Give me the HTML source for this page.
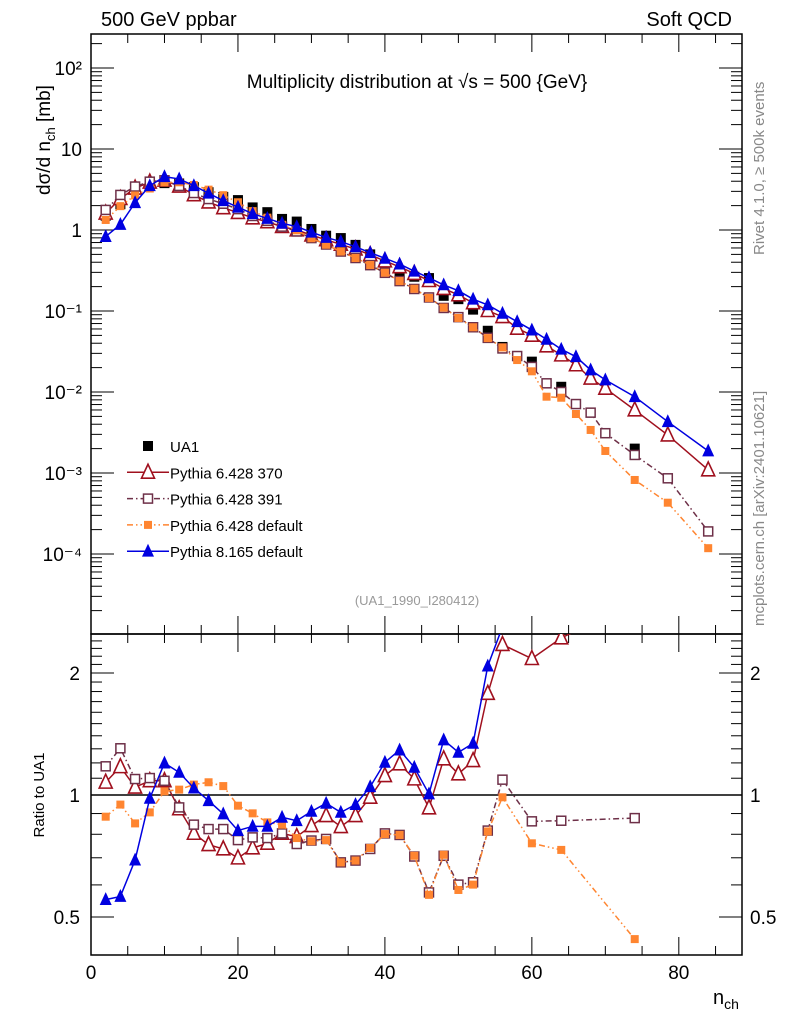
<!DOCTYPE html>
<html><head><meta charset="utf-8"><style>
html,body{margin:0;padding:0;background:#fff;}
svg{display:block;font-family:"Liberation Sans",Arial,sans-serif;}
</style></head><body>
<svg id="chart" width="786" height="1024" viewBox="0 0 786 1024" xmlns="http://www.w3.org/2000/svg">
<defs>
<clipPath id="clipMain"><rect x="91" y="34" width="651" height="600"/></clipPath>
<clipPath id="clipRatio"><rect x="91" y="634" width="651" height="321"/></clipPath>
</defs>
<g id="axes"></g>
<g id="series"></g>
<text x="101" y="26" font-size="20">500 GeV ppbar</text>
<text x="732" y="26" font-size="20" text-anchor="end">Soft QCD</text>
<text x="417" y="88" font-size="19" text-anchor="middle">Multiplicity distribution at √s = 500 {GeV}</text>
<text transform="translate(50,195) rotate(-90)" font-size="19" text-anchor="start">dσ/d n<tspan font-size="13" dy="5">ch</tspan><tspan dy="-5"> [mb]</tspan></text>
<text transform="translate(44,795) rotate(-90)" font-size="15" text-anchor="middle">Ratio to UA1</text>
<text x="713" y="1004" font-size="20">n<tspan font-size="14" dy="5">ch</tspan></text>
<text transform="translate(764,255) rotate(-90)" font-size="15" fill="#888">Rivet 4.1.0, ≥ 500k events</text>
<text transform="translate(764,626) rotate(-90)" font-size="15" fill="#888">mcplots.cern.ch [arXiv:2401.10621]</text>
<text x="417" y="605" font-size="13" fill="#999" text-anchor="middle">(UA1_1990_I280412)</text>
<g id="legend"></g>
</svg>
<script>
const ua1N = [2,4,6,8,10,12,14,16,18,20,22,24,26,28,30,32,34,36,38,40,42,44,46,48,50,52,54,56,60,64,74];
const ua1Vals = [1.50,2.08,3.14,3.59,3.79,3.76,3.38,2.93,2.56,2.34,1.90,1.66,1.37,1.27,1.03,0.85,0.795,0.655,0.50,0.371,0.294,0.265,0.255,0.154,0.140,0.104,0.057,0.036,0.0237,0.0116,0.0020];
const mcN = [2,4,6,8,10,12,14,16,18,20,22,24,26,28,30,32,34,36,38,40,42,44,46,48,50,52,54,56,58,60,62,64,66,68,70,74,78.5,84];
const p370Vals = [1.61,2.44,3.28,3.89,4.11,3.47,2.72,2.21,1.88,1.64,1.41,1.26,1.10,1.00,0.865,0.756,0.664,0.582,0.494,0.414,0.351,0.290,0.237,0.189,0.158,0.126,0.101,0.085,0.0611,0.050,0.037,0.0286,0.0216,0.0148,0.0111,0.0060,0.00294,0.00109];
const p391Vals = [1.77,2.71,3.44,3.95,4.11,3.50,2.86,2.41,2.11,1.81,1.49,1.30,1.10,0.96,0.795,0.662,0.542,0.451,0.368,0.296,0.234,0.187,0.147,0.109,0.084,0.063,0.0466,0.0345,0.0278,0.0204,0.0128,0.0100,0.0071,0.00556,0.0031,0.00167,0.00086,0.00019];
const pdefVals = [1.33,1.97,2.67,3.25,3.87,3.88,3.59,3.15,2.69,2.20,1.71,1.42,1.16,0.99,0.792,0.658,0.542,0.451,0.370,0.297,0.234,0.188,0.145,0.110,0.082,0.063,0.0463,0.0355,0.0248,0.0180,0.00875,0.0085,0.00535,0.0034,0.00187,0.00082,0.00043,0.000118];
const p8Vals = [0.83,1.17,2.17,3.52,4.55,4.27,3.52,2.84,2.30,1.91,1.59,1.39,1.21,1.10,0.94,0.81,0.72,0.62,0.525,0.447,0.38,0.31,0.257,0.21,0.178,0.14,0.119,0.0937,0.0738,0.0582,0.0447,0.0337,0.0273,0.0187,0.0141,0.00875,0.0043,0.00187];
const ratioN = [2,4,6,8,10,12,14,16,18,20,22,24,26,28,30,32,34,36,38,40,42,44,46,48,50,52,54,56,60,64,74];
const r370 = [1.075,1.174,1.045,1.084,1.084,0.924,0.804,0.754,0.736,0.699,0.740,0.760,0.804,0.789,0.840,0.889,0.835,0.889,0.987,1.116,1.193,1.095,0.929,1.227,1.127,1.215,1.78,2.35,2.17,2.44,3.0];
const r391 = [1.177,1.304,1.095,1.101,1.084,0.932,0.845,0.824,0.824,0.774,0.786,0.783,0.804,0.757,0.772,0.779,0.682,0.689,0.736,0.804,0.797,0.705,0.575,0.708,0.601,0.609,0.817,1.091,0.861,0.864,0.877];
const rdef = [0.884,0.947,0.851,0.906,1.021,1.031,1.061,1.075,1.052,0.941,0.901,0.856,0.845,0.783,0.769,0.774,0.682,0.689,0.740,0.801,0.797,0.708,0.567,0.712,0.583,0.601,0.813,0.987,0.760,0.732,0.441];
const r8 = [0.552,0.562,0.691,0.981,1.199,1.137,1.040,0.968,0.898,0.817,0.837,0.837,0.881,0.864,0.911,0.954,0.906,0.947,1.048,1.204,1.291,1.170,1.006,1.367,1.274,1.341,2.08,2.6];
const mainTicks = [2,1,0,-1,-2,-3,-4];
const mainTickLabels = ["10²","10","1","10⁻¹","10⁻²","10⁻³","10⁻⁴"];
const ratioTicks = [2,1,0.5];
const ratioTickLabels = ["2","1","0.5"];
const xTicks = [0,20,40,60,80];

const NS="http://www.w3.org/2000/svg";
const X0=91,X1=742,XMAX=88.6;
const xs = n => X0 + n*(X1-X0)/XMAX;
const MT=34,MB=634;
const ym = v => 230 - Math.log10(v)*81;
const RT=634,RB=955;
const yr = v => 795 - Math.log2(v)*122;
function el(tag,attrs,parent){const e=document.createElementNS(NS,tag);for(const k in attrs)e.setAttribute(k,attrs[k]);parent.appendChild(e);return e;}
const axes=document.getElementById('axes');
const series=document.getElementById('series');

let f1=el('rect',{x:X0,y:MT,width:X1-X0,height:MB-MT,fill:'none',stroke:'#000','stroke-width':1.5},axes);


let f2=el('rect',{x:X0,y:RT,width:X1-X0,height:RB-RT,fill:'none',stroke:'#000','stroke-width':1.5},axes);



for(let v=0;v<=85;v+=5){
  const major=v%20===0, x=xs(v), L=major?18:9;
  [[MT,1],[MB,-1],[RT,1],[RB,-1]].forEach(([y0,d])=>{
    let t=el('line',{x1:x,x2:x,y1:y0,y2:y0+d*L,stroke:'#000','stroke-width':1},axes);
    
    
  });
}
xTicks.forEach(v=>{
  let t=el('text',{x:xs(v),y:979,'font-size':19,'text-anchor':'middle'},axes);t.textContent=v;
  
  
});
for(let d=-5;d<=2;d++){
  for(let m=1;m<=9;m++){
    const v=m*Math.pow(10,d), y=ym(v);
    if(y<MT||y>MB)continue;
    const L=m===1?23:11;
    [[X0,1],[X1,-1]].forEach(([x0,s])=>{
      let t=el('line',{x1:x0,x2:x0+s*L,y1:y,y2:y,stroke:'#000','stroke-width':1},axes);
      
      
    });
  }
}
mainTicks.forEach((p,i)=>{
  let t=el('text',{x:82,y:ym(Math.pow(10,p))+7,'font-size':19,'text-anchor':'end'},axes);t.textContent=mainTickLabels[i];
  
  
});
for(let v=0.4;v<=2.5001;v+=0.1){
  const y=yr(v); if(y<RT||y>RB)continue;
  const maj=Math.abs(v-1)<1e-6||Math.abs(v-2)<1e-6||Math.abs(v-0.5)<1e-6;
  const L=maj?23:11;
  [[X0,1],[X1,-1]].forEach(([x0,s])=>{
    let t=el('line',{x1:x0,x2:x0+s*L,y1:y,y2:y,stroke:'#000','stroke-width':1},axes);
    
    
  });
}
ratioTicks.forEach((v,i)=>{
  let t=el('text',{x:80,y:yr(v)+7,'font-size':19,'text-anchor':'end'},axes);t.textContent=ratioTickLabels[i];
  
  
  let t2=el('text',{x:750,y:yr(v)+7,'font-size':19},axes);t2.textContent=ratioTickLabels[i];
  
  
});
let ref=el('line',{x1:X0,x2:X1,y1:yr(1),y2:yr(1),stroke:'#000','stroke-width':1.5},axes);



function marker(g,type,x,y,color,s){
  let m;
  if(type==='sq') m=el('rect',{x:x-s/2,y:y-s/2,width:s,height:s,fill:color},g);
  else if(type==='osq') m=el('rect',{x:x-s/2,y:y-s/2,width:s,height:s,fill:'#fff',stroke:color,'stroke-width':1.5},g);
  else if(type==='otri') m=el('polygon',{points:`${x},${y-s*0.62} ${x-s/2},${y+s*0.45} ${x+s/2},${y+s*0.45}`,fill:'#fff',stroke:color,'stroke-width':1.6},g);
  else m=el('polygon',{points:`${x},${y-s*0.62} ${x-s/2},${y+s*0.45} ${x+s/2},${y+s*0.45}`,fill:color},g);
  
  
}
function drawSeries(name,nArr,vals,fy,clip,color,dash,type,s){
  const g=el('g',{'clip-path':`url(#${clip})`},series);
  
  
  const pts=vals.map((v,i)=>`${xs(nArr[i])},${fy(v)}`).join(' ');
  if(color!=='#000'){
    const pl=el('polyline',{points:pts,fill:'none',stroke:color,'stroke-width':1.5,'stroke-dasharray':dash||'none'},g);
    
    
  }
  vals.forEach((v,i)=>marker(g,type,xs(nArr[i]),fy(v),color,s));
}
const S=[
 {name:'pythia6-370',vals:p370Vals,r:r370,color:'#a0101e',dash:'',type:'otri',s:13},
 {name:'pythia6-391',vals:p391Vals,r:r391,color:'#6e3048',dash:'6 3 1.5 3',type:'osq',s:9},
 {name:'pythia6-default',vals:pdefVals,r:rdef,color:'#ff8530',dash:'6 3 1.5 3 1.5 3',type:'sq',s:8},
 {name:'pythia8-default',vals:p8Vals,r:r8,color:'#0000e0',dash:'',type:'tri',s:12}
];
drawSeries('ua1-data',ua1N,ua1Vals,ym,'clipMain','#000','','sq',10);
S.forEach(o=>drawSeries(o.name+'-main',mcN,o.vals,ym,'clipMain',o.color,o.dash,o.type,o.s));
S.forEach(o=>drawSeries(o.name+'-ratio',ratioN,o.r,yr,'clipRatio',o.color,o.dash,o.type,o.s));

const leg=document.getElementById('legend');
const legItems=[['UA1','#000','','sq',10],['Pythia 6.428 370',S[0].color,'','otri',13],['Pythia 6.428 391',S[1].color,S[1].dash,'osq',9],['Pythia 6.428 default',S[2].color,S[2].dash,'sq',8],['Pythia 8.165 default',S[3].color,'','tri',12]];
legItems.forEach((it,i)=>{
  const y=446+i*26.3;
  const g=el('g',{},leg);
  
  
  if(i>0){let l=el('line',{x1:127,x2:169,y1:y,y2:y,stroke:it[1],'stroke-width':1.5,'stroke-dasharray':it[2]||'none'},g);
    
    }
  marker(g,it[3],148,y,it[1],it[4]);
  let t=el('text',{x:170,y:y+6,'font-size':15},g);t.textContent=it[0];
  
  
});
</script>
</body></html>
